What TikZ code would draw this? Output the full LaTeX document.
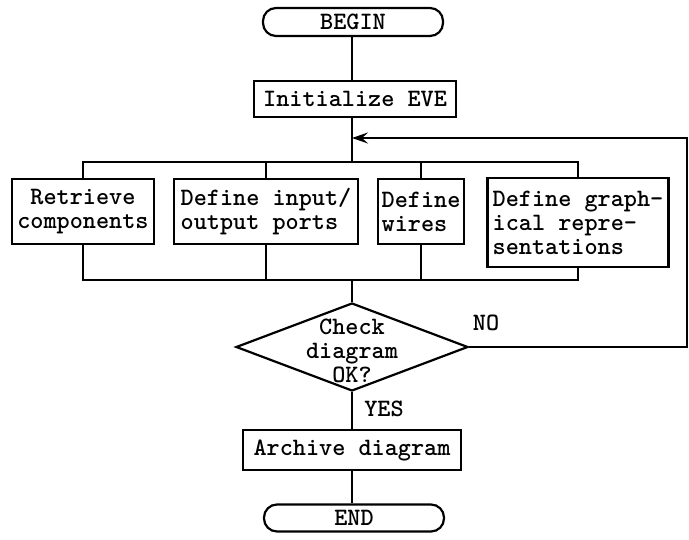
\documentclass[tikz,border=0pt]{standalone}
\usetikzlibrary{shapes.geometric,arrows.meta}
\begin{document}
\begin{tikzpicture}[x=1pt,y=-1pt,
  line width=2.2pt,
  txt/.style={font=\ttfamily\bfseries\fontsize{25}{24}\selectfont, inner sep=0pt},
  box/.style={draw, rectangle, inner sep=0pt, txt},
  term/.style={box, rounded corners=13pt},
  dec/.style={draw, diamond, inner sep=0pt, aspect=2.64},
  lbl/.style={txt}]
\useasboundingbox (0,0) rectangle (689,540);
\node[term, minimum width=180pt, minimum height=28pt] (begin) at (353,22) {BEGIN};
\node[box, minimum width=202pt, minimum height=36pt] (init) at (355,99) {Initialize EVE};
\node[box, minimum width=142pt, minimum height=65pt, align=center] (b1) at (83,211.5) {Retrieve\\components};
\node[box, minimum width=184pt, minimum height=65pt, align=left] (b2) at (266,211.5) {Define input/\\output ports};
\node[box, minimum width=86pt, minimum height=65pt, align=left] (b3) at (421,211.5) {Define\\wires};
\node[box, minimum width=181pt, minimum height=89pt, align=left] (b4) at (578,222.5) {Define graph-\\ical repre-\\sentations};
\node[dec, minimum width=232pt, minimum height=88pt] (chk) at (352,347) {};
\node[txt, align=center] (chktxt) at (352,351) {Check\\diagram\\OK?};
\node[box, minimum width=218pt, minimum height=40pt] (arch) at (352,450) {Archive diagram};
\node[term, minimum width=180pt, minimum height=27pt] (endn) at (354,518) {END};
\node[lbl] (no) at (486,323) {NO};
\node[lbl] (yes) at (384,409) {YES};
\coordinate (tj) at (352,162);
\coordinate (bj) at (352,280);
\coordinate (fbr) at (687,138);
\coordinate (ar) at (352,138);
\draw (begin.south -| tj) -- (init.north -| tj);
\draw (init.south -| tj) -- (tj);
\draw (b1.north) |- (tj) -| (b4.north);
\draw (b2.north) -- (b2.north |- tj);
\draw (b3.north) -- (b3.north |- tj);
\draw (b1.south) |- (bj) -| (b4.south);
\draw (b2.south) -- (b2.south |- bj);
\draw (b3.south) -- (b3.south |- bj);
\draw (bj) -- (chk.north);
\draw[-{Stealth[length=16pt,width=11pt,inset=6pt]}] (chk.east) -| (fbr) -- (ar);
\draw (chk.south) -- (arch.north);
\draw (arch.south) -- (endn.north -| arch.south);
\end{tikzpicture}
\end{document}
